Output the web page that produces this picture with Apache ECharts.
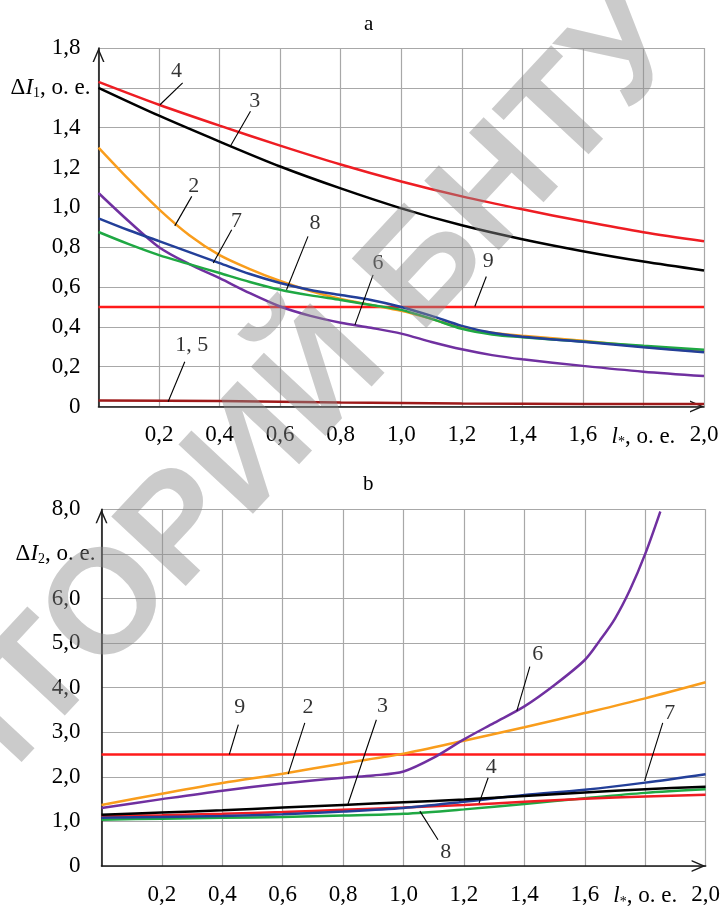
<!DOCTYPE html>
<html><head><meta charset="utf-8">
<script src="https://cdn.jsdelivr.net/npm/echarts@6.0.0/dist/echarts.min.js"></script>
<style>html,body{margin:0;padding:0;background:#fff}#c{width:723px;height:909px}</style>
</head><body><div id="c"></div>
<script>
// ---------- tick labels ----------
const xTickLabels = ['', '0,2', '0,4', '0,6', '0,8', '1,0', '1,2', '1,4', '1,6', 'l*, o. e.', '2,0'];
const aYTickLabels = ['0', '0,2', '0,4', '0,6', '0,8', '1,0', '1,2', '1,4', 'ΔI1, o. e.', '1,8'];
const bYTickLabels = ['0', '1,0', '2,0', '3,0', '4,0', '5,0', '6,0', 'ΔI2, o. e.', '8,0'];

// ---------- chart a ----------
const aX1 = [0, 0.2, 0.4, 0.6, 0.8, 1.0, 1.2, 1.4, 1.6, 1.8, 2.0];
const aCurve4 = [1.63, 1.515, 1.41, 1.31, 1.215, 1.13, 1.055, 0.99, 0.93, 0.875, 0.83];
const aCurve3 = [1.60, 1.46, 1.33, 1.205, 1.095, 0.995, 0.91, 0.84, 0.78, 0.728, 0.683];
const aX2 = [0, 0.1, 0.2, 0.3, 0.4, 0.5, 0.6, 0.7, 0.8, 0.9, 1.0, 1.1, 1.2, 1.3, 1.4, 1.6, 1.8, 2.0];
const aCurve2 = [1.30, 1.14, 0.99, 0.86, 0.76, 0.69, 0.63, 0.58, 0.54, 0.51, 0.48, 0.44, 0.395, 0.37, 0.355, 0.33, 0.30, 0.275];
const aCurve7 = [0.945, 0.885, 0.83, 0.775, 0.72, 0.665, 0.62, 0.585, 0.56, 0.535, 0.50, 0.455, 0.405, 0.37, 0.35, 0.325, 0.298, 0.272];
const aCurve8 = [0.876, 0.815, 0.76, 0.715, 0.67, 0.625, 0.586, 0.558, 0.535, 0.51, 0.485, 0.44, 0.39, 0.362, 0.348, 0.326, 0.305, 0.285];
const aCurve6 = [1.072, 0.93, 0.80, 0.715, 0.644, 0.569, 0.502, 0.455, 0.421, 0.395, 0.366, 0.324, 0.287, 0.258, 0.237, 0.204, 0.175, 0.153];
const aX9 = [0, 2.0];
const aCurve9 = [0.5, 0.5];
const aX15 = [0, 0.4, 0.8, 1.2, 1.6, 2.0];
const aCurve15 = [0.03, 0.027, 0.02, 0.015, 0.013, 0.012];

// annotations a: label text, label position, leader start, leader end (data units)
const aNotes = [
  {t: '4', at: [0.258, 1.683], from: [0.278, 1.625], to: [0.203, 1.515]},
  {t: '3', at: [0.516, 1.532], from: [0.502, 1.482], to: [0.434, 1.303]},
  {t: '2', at: [0.315, 1.105], from: [0.308, 1.055], to: [0.252, 0.907]},
  {t: '7', at: [0.456, 0.929], from: [0.44, 0.887], to: [0.379, 0.72]},
  {t: '8', at: [0.715, 0.921], from: [0.692, 0.854], to: [0.621, 0.586]},
  {t: '6', at: [0.923, 0.72], from: [0.907, 0.661], to: [0.847, 0.41]},
  {t: '9', at: [1.287, 0.728], from: [1.281, 0.653], to: [1.243, 0.502]},
  {t: '1, 5', at: [0.308, 0.309], from: [0.285, 0.225], to: [0.23, 0.024]}
];

// ---------- chart b ----------
const bX = [0, 0.2, 0.4, 0.6, 0.8, 1.0, 1.2, 1.4, 1.6, 1.8, 2.0];
const bCurve2 = [1.37, 1.62, 1.86, 2.07, 2.30, 2.52, 2.81, 3.11, 3.43, 3.76, 4.12];
const bCurve3 = [1.15, 1.20, 1.25, 1.31, 1.37, 1.43, 1.49, 1.57, 1.65, 1.72, 1.78];
const bCurve4 = [1.12, 1.14, 1.17, 1.21, 1.26, 1.31, 1.37, 1.44, 1.51, 1.56, 1.60];
const bCurve7 = [1.08, 1.10, 1.12, 1.16, 1.22, 1.30, 1.44, 1.59, 1.71, 1.87, 2.06];
const bCurve8 = [1.04, 1.06, 1.08, 1.10, 1.13, 1.17, 1.27, 1.39, 1.52, 1.64, 1.72];
const bX6 = [0, 0.2, 0.4, 0.6, 0.8, 0.9, 1.0, 1.1, 1.2, 1.3, 1.4, 1.5, 1.6, 1.65, 1.7, 1.75, 1.8, 1.85];
const bCurve6 = [1.30, 1.50, 1.69, 1.85, 1.98, 2.03, 2.12, 2.43, 2.84, 3.21, 3.58, 4.06, 4.62, 5.06, 5.55, 6.2, 7.0, 7.95];
const bX9 = [0, 2.0];
const bCurve9 = [2.5, 2.5];

const bNotes = [
  {t: '9', at: [0.458, 3.556], from: [0.453, 3.17], to: [0.423, 2.5]},
  {t: '2', at: [0.684, 3.556], from: [0.673, 3.21], to: [0.618, 2.06]},
  {t: '3', at: [0.930, 3.578], from: [0.91, 3.28], to: [0.816, 1.39]},
  {t: '6', at: [1.444, 4.76], from: [1.418, 4.47], to: [1.375, 3.48]},
  {t: '4', at: [1.290, 2.21], from: [1.280, 1.98], to: [1.25, 1.41]},
  {t: '7', at: [1.881, 3.43], from: [1.858, 3.21], to: [1.798, 1.91]},
  {t: '8', at: [1.14, 0.32], from: [1.114, 0.59], to: [1.054, 1.23]}
];

const watermarkText = 'РЕПОЗИТОРИЙ БНТУ';

// ---------- styling ----------
const SERIF = '"Liberation Serif", "Times New Roman", serif';
const FS = 23;
const COL = {c15: '#9e1a1a', c2: '#f99d1c', c3: '#000000', c4: '#ee1d23', c6: '#7030a0', c7: '#233f99', c8: '#1fa843', c9: '#ff1a1a'};
const ARROW = 'path://M0,14 L6,0 L12,14 L10.5,14 L6,3.6 L1.5,14 Z';

function zip(xs, ys) { return xs.map((x, i) => [x, ys[i]]); }
const rich = {
  n: {fontFamily: SERIF, fontSize: FS, color: '#000', padding: [0, 10, 0, 0]},
  n2: {fontFamily: SERIF, fontSize: FS, color: '#000', padding: [0, 15, 0, 0]},
  m: {fontFamily: SERIF, fontSize: FS, color: '#000'},
  d: {fontFamily: SERIF, fontSize: FS, color: '#000'},
  i: {fontFamily: SERIF, fontSize: FS, color: '#000', fontStyle: 'italic'},
  s: {fontFamily: SERIF, fontSize: 14, color: '#000', verticalAlign: 'bottom', lineHeight: 24},
  li: {fontFamily: SERIF, fontSize: FS, color: '#000', fontStyle: 'italic'},
  st: {fontFamily: SERIF, fontSize: 14, color: '#000', verticalAlign: 'bottom', lineHeight: 26}
};
function yFmt(labels, interval, pad) {
  return function (v) {
    const s = labels[Math.round(v / interval)];
    if (s === undefined) return '';
    if (s.indexOf('ΔI') === 0) {
      return '{d|Δ}{i|I}{s|' + s.charAt(2) + '}{m|' + s.slice(3) + '}';
    }
    return '{' + pad + '|' + s + '}';
  };
}
function xFmt(v) {
  const s = xTickLabels[Math.round(v / 0.2)];
  if (s === undefined) return '';
  if (s.indexOf('l*') === 0) return '{li|l}{st|*}{m|' + s.slice(2) + '}';
  return '{m|' + s + '}';
}

function xAxis(gi, margin) {
  return {
    type: 'value', gridIndex: gi, min: 0, max: 2, interval: 0.2,
    axisLine: {show: true, onZero: false, symbol: ['none', ARROW], symbolSize: [12, 14], symbolOffset: [0, -7], lineStyle: {color: '#1a1a1a', width: 1.6}},
    axisTick: {show: false},
    axisLabel: {show: true, margin: margin, formatter: xFmt, rich: rich, showMinLabel: true, showMaxLabel: true},
    splitLine: {show: true, lineStyle: {color: '#a8a8a8', width: 1.2}}
  };
}
function yAxis(gi, max, interval, labels, pad, margin) {
  return {
    type: 'value', gridIndex: gi, min: 0, max: max, interval: interval,
    axisLine: {show: true, onZero: false, symbol: ['none', ARROW], symbolSize: [12, 14], symbolOffset: [0, -7], lineStyle: {color: '#1a1a1a', width: 1.6}},
    axisTick: {show: false},
    axisLabel: {show: true, margin: margin, formatter: yFmt(labels, interval, pad), rich: rich, showMinLabel: true, showMaxLabel: true},
    splitLine: {show: true, lineStyle: {color: '#a8a8a8', width: 1.2}}
  };
}
function line(gi, data, color, z) {
  return {type: 'line', xAxisIndex: gi, yAxisIndex: gi, data: data, showSymbol: false, symbol: 'none',
          smooth: 0.3, lineStyle: {color: color, width: 2.5}, z: z || 3, silent: true, animation: false};
}
function noteSeries(gi, notes) {
  return [
    {type: 'lines', coordinateSystem: 'cartesian2d', xAxisIndex: gi, yAxisIndex: gi, silent: true, animation: false, z: 6,
     lineStyle: {color: '#000', width: 1.1, opacity: 1, curveness: 0}, symbol: 'none',
     data: notes.map(n => ({coords: [n.from, n.to]}))},
    {type: 'scatter', xAxisIndex: gi, yAxisIndex: gi, symbolSize: 0, silent: true, animation: false, z: 7,
     label: {show: true, position: 'inside', formatter: p => p.value[2], fontFamily: SERIF, fontSize: 22, color: '#000'},
     data: notes.map(n => [n.at[0], n.at[1], n.t])}
  ];
}

const chart = echarts.init(document.getElementById('c'), null, {renderer: 'canvas'});
chart.setOption({
  animation: false,
  backgroundColor: '#fff',
  title: [
    {text: 'a', left: 359, top: 9, textStyle: {fontFamily: SERIF, fontSize: 21, fontWeight: 'normal', color: '#000'}},
    {text: 'b', left: 358, top: 469, textStyle: {fontFamily: SERIF, fontSize: 21, fontWeight: 'normal', color: '#000'}}
  ],
  grid: [
    {left: 98.5, top: 48, width: 605.5, height: 358.5},
    {left: 101.5, top: 509.3, width: 604.5, height: 360}
  ],
  xAxis: [xAxis(0, 17), xAxis(1, 17)],
  yAxis: [yAxis(0, 1.8, 0.2, aYTickLabels, 'n', 8), yAxis(1, 8, 1, bYTickLabels, 'n2', 6)],
  series: [
    line(0, zip(aX15, aCurve15), COL.c15),
    line(0, zip(aX9, aCurve9), COL.c9),
    line(0, zip(aX2, aCurve6), COL.c6),
    line(0, zip(aX2, aCurve2), COL.c2),
    line(0, zip(aX2, aCurve8), COL.c8),
    line(0, zip(aX2, aCurve7), COL.c7),
    line(0, zip(aX1, aCurve3), COL.c3),
    line(0, zip(aX1, aCurve4), COL.c4),
    ...noteSeries(0, aNotes),
    line(1, zip(bX9, bCurve9), COL.c9),
    line(1, zip(bX, bCurve2), COL.c2),
    line(1, zip(bX6, bCurve6), COL.c6),
    line(1, zip(bX, bCurve8), COL.c8),
    line(1, zip(bX, bCurve4), COL.c4),
    line(1, zip(bX, bCurve7), COL.c7),
    line(1, zip(bX, bCurve3), COL.c3),
    ...noteSeries(1, bNotes)
  ],
  graphic: [
    {type: 'text', x: -410, y: 1165, rotation: 47 * Math.PI / 180, z: 100, silent: true,
     style: {text: watermarkText, font: 'bold 148px "Liberation Sans", Arial, sans-serif', fill: 'rgba(140,140,140,0.45)', align: 'left', verticalAlign: 'middle'}}
  ]
});
</script>
</body></html>
